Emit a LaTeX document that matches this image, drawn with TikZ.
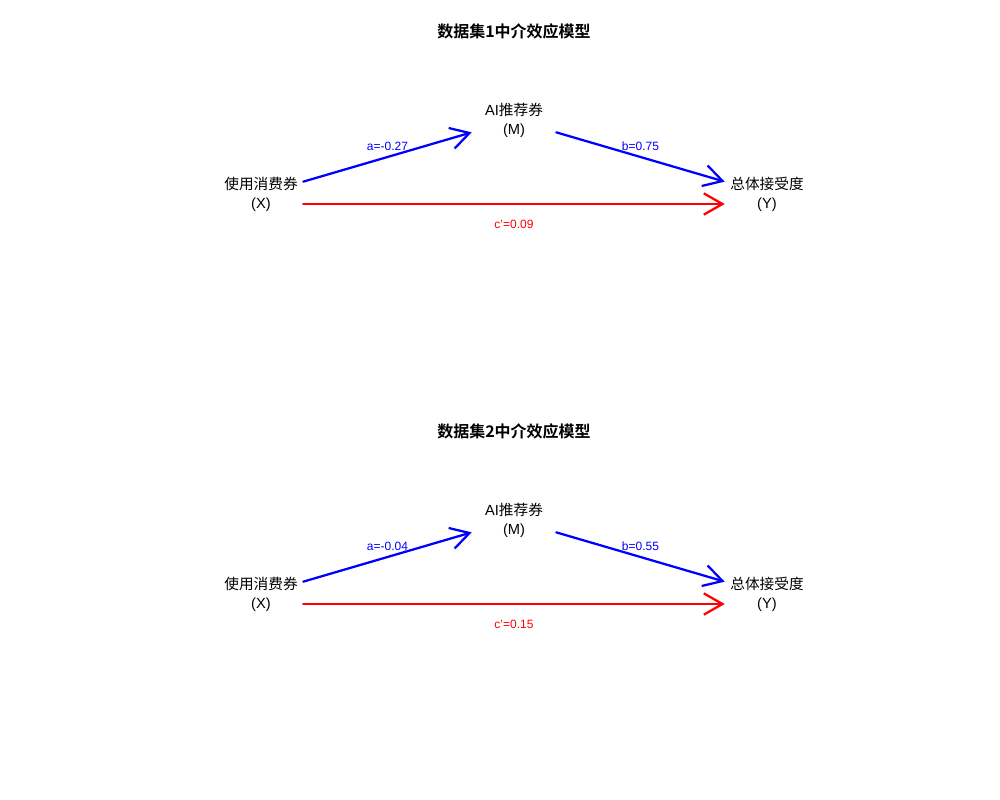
\documentclass[tikz,border=0pt]{standalone}
\usepackage{fontspec}
\setmainfont{Liberation Sans}
\newfontfamily\cjk{Noto Sans CJK SC}[BoldFont={Noto Sans CJK SC Bold}]
\usetikzlibrary{arrows.meta,positioning}

\begin{document}
\begin{tikzpicture}[
  x=0.75pt, y=-0.75pt,
  >={Straight Barb[length=14pt,width=16pt]},
  var/.style={align=center, inner sep=0pt, minimum width=63pt, minimum height=30pt,
    font=\fontsize{11}{14}\selectfont},
  ttl/.style={font=\cjk\bfseries\fontsize{12}{14}\selectfont},
  lbl/.style={font=\fontsize{9}{11}\selectfont, inner sep=0pt},
  path/.style={->, line width=1.7pt, line cap=round},
  pblue/.style={path, blue},
  pred/.style={path, red}
]
\useasboundingbox (0,0) rectangle (1000,800);

% two panels, one per data set
\foreach \k/\dy/\a/\b/\c in {1/0/-0.27/0.75/0.09, 2/400/-0.04/0.55/0.15}{
  \node[ttl] (t\k) at (514,31+\dy) {数据集\k 中介效应模型};
  \node[var] (x\k) at (261,194+\dy) {{\cjk 使用消费券}\\(X)};
  \node[var] (m\k) at (514,120+\dy) {AI{\cjk 推荐券}\\(M)};
  \node[var] (y\k) at (767,194+\dy) {{\cjk 总体接受度}\\(Y)};

  \draw[pblue] (x\k) -- (m\k) node[lbl, midway, yshift=8pt, text=blue] (la\k) {a=\a};
  \draw[pblue] (m\k) -- (y\k) node[lbl, midway, yshift=8pt, text=blue] (lb\k) {b=\b};
  \draw[pred] ([yshift=-7.5pt]x\k.east) -- ([yshift=-7.5pt]y\k.west)
    node[lbl, midway, yshift=-15pt, text=red] (lc\k) {c'=\c};
}
\end{tikzpicture}
\end{document}
